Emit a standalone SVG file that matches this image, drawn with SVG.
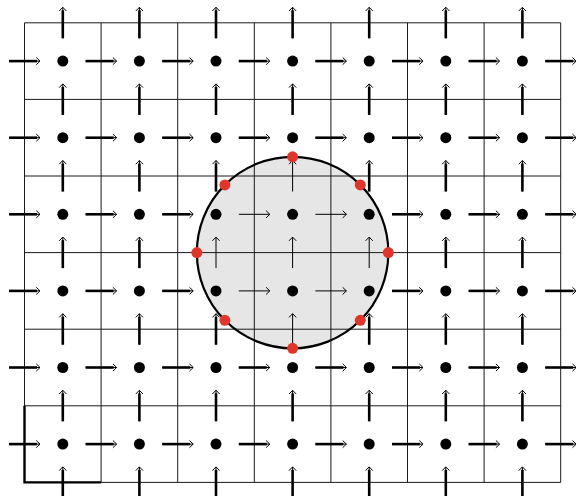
<svg xmlns="http://www.w3.org/2000/svg" xmlns:xlink="http://www.w3.org/1999/xlink" width="576" height="496" viewBox="0 0 576 496">
<style>
.thick{stroke:#000;stroke-width:2.6;fill:none}
.thin{stroke:#000;stroke-width:1;fill:none}
.grid{stroke:#1a1a1a;stroke-width:1;fill:none}
.dot{fill:#000}
.red{fill:#e0352b}
</style>
<defs>
<line id="hs" x1="-15.5" y1="0" x2="12.5" y2="0" class="thick"/>
<path id="ht" d="M-15.5,0H15.5M11.8,-3.6L15.5,0L11.8,3.6" class="thin"/>
<line id="vs" x1="0" y1="15.5" x2="0" y2="-12.5" class="thick"/>
<path id="vt" d="M0,15.5V-15.5M-3.6,-11.8L0,-15.5L3.6,-11.8" class="thin"/>
<g id="hrowS">
<use href="#hs" x="24.5"/><use href="#hs" x="101.1"/><use href="#hs" x="177.7"/><use href="#hs" x="254.3"/><use href="#hs" x="330.9"/><use href="#hs" x="407.5"/><use href="#hs" x="484.1"/><use href="#hs" x="560.7"/>
</g>
<g id="hrowT">
<use href="#ht" x="24.5"/><use href="#ht" x="101.1"/><use href="#ht" x="177.7"/><use href="#ht" x="254.3"/><use href="#ht" x="330.9"/><use href="#ht" x="407.5"/><use href="#ht" x="484.1"/><use href="#ht" x="560.7"/>
</g>
<g id="vrowS">
<use href="#vs" x="62.8"/><use href="#vs" x="139.4"/><use href="#vs" x="216"/><use href="#vs" x="292.6"/><use href="#vs" x="369.2"/><use href="#vs" x="445.8"/><use href="#vs" x="522.4"/>
</g>
<g id="vrowT">
<use href="#vt" x="62.8"/><use href="#vt" x="139.4"/><use href="#vt" x="216"/><use href="#vt" x="292.6"/><use href="#vt" x="369.2"/><use href="#vt" x="445.8"/><use href="#vt" x="522.4"/>
</g>
<g id="dotrow">
<circle class="dot" cx="62.8" cy="0" r="5.5"/><circle class="dot" cx="139.4" cy="0" r="5.5"/><circle class="dot" cx="216" cy="0" r="5.5"/><circle class="dot" cx="292.6" cy="0" r="5.5"/><circle class="dot" cx="369.2" cy="0" r="5.5"/><circle class="dot" cx="445.8" cy="0" r="5.5"/><circle class="dot" cx="522.4" cy="0" r="5.5"/>
</g>
</defs>
<rect width="576" height="496" fill="#fff"/>
<g id="connectors-thick">
<use href="#hrowS" y="61.1"/><use href="#hrowS" y="137.7"/><use href="#hrowS" y="214.3"/><use href="#hrowS" y="290.9"/><use href="#hrowS" y="367.5"/><use href="#hrowS" y="444.1"/>
<use href="#vrowS" y="22.8"/><use href="#vrowS" y="99.4"/><use href="#vrowS" y="176"/><use href="#vrowS" y="252.6"/><use href="#vrowS" y="329.2"/><use href="#vrowS" y="405.8"/><use href="#vrowS" y="482.4"/>
</g>
<circle id="disk-fill" cx="292.6" cy="252.6" r="95.75" fill="#e6e6e6"/>
<g id="grid" class="grid">
<path d="M24.5,22.8V482.4M101.1,22.8V482.4M177.7,22.8V482.4M254.3,22.8V482.4M330.9,22.8V482.4M407.5,22.8V482.4M484.1,22.8V482.4M560.7,22.8V482.4"/>
<path d="M24.5,22.8H560.7M24.5,99.4H560.7M24.5,176H560.7M24.5,252.6H560.7M24.5,329.2H560.7M24.5,405.8H560.7M24.5,482.4H560.7"/>
<path d="M24.5,405.8V482.4H101.1" style="stroke:#000;stroke-width:2.4"/>
</g>
<g id="connectors">
<use href="#hrowT" y="61.1"/><use href="#hrowT" y="137.7"/><use href="#hrowT" y="214.3"/><use href="#hrowT" y="290.9"/><use href="#hrowT" y="367.5"/><use href="#hrowT" y="444.1"/>
<use href="#vrowT" y="22.8"/><use href="#vrowT" y="99.4"/><use href="#vrowT" y="176"/><use href="#vrowT" y="252.6"/><use href="#vrowT" y="329.2"/><use href="#vrowT" y="405.8"/><use href="#vrowT" y="482.4"/>
</g>
<g id="nodes">
<use href="#dotrow" y="61.1"/><use href="#dotrow" y="137.7"/><use href="#dotrow" y="214.3"/><use href="#dotrow" y="290.9"/><use href="#dotrow" y="367.5"/><use href="#dotrow" y="444.1"/>
</g>
<circle id="disk-outline" cx="292.6" cy="252.6" r="95.75" fill="none" stroke="#000" stroke-width="2.2"/>
<g id="boundary-points">
<circle class="red" cx="292.6" cy="156.85" r="5.5"/>
<circle class="red" cx="360.3" cy="184.9" r="5.5"/>
<circle class="red" cx="388.35" cy="252.6" r="5.5"/>
<circle class="red" cx="360.3" cy="320.3" r="5.5"/>
<circle class="red" cx="292.6" cy="348.35" r="5.5"/>
<circle class="red" cx="224.9" cy="320.3" r="5.5"/>
<circle class="red" cx="196.85" cy="252.6" r="5.5"/>
<circle class="red" cx="224.9" cy="184.9" r="5.5"/>
</g>
</svg>
